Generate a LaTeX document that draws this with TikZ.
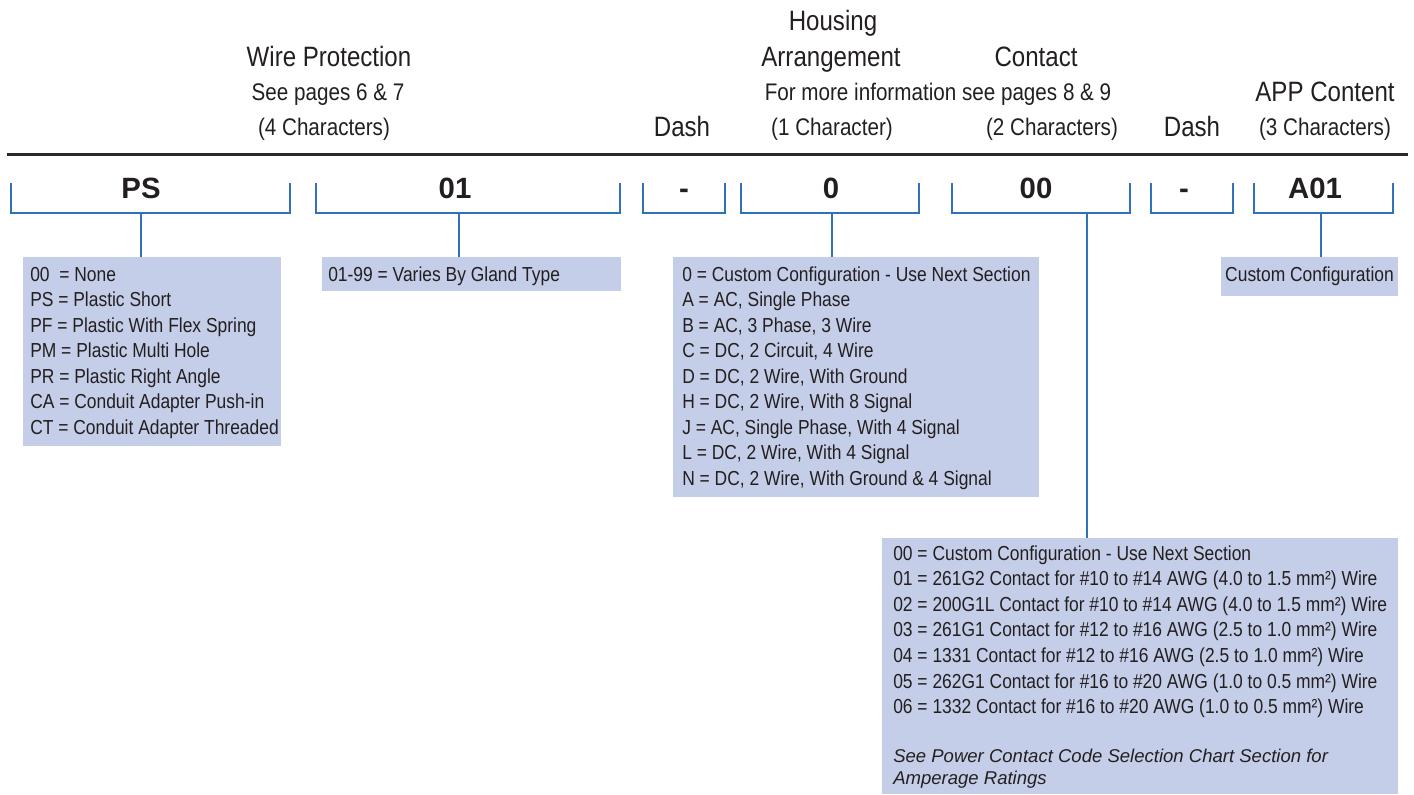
\documentclass[tikz,border=0pt]{standalone}
\usepackage{fontspec}
\setmainfont{Liberation Sans}
\newfontfamily\narrow{Liberation Sans}[FakeStretch=0.86]
\definecolor{ink}{HTML}{231F20}
\definecolor{rulegray}{HTML}{2A2A2A}
\definecolor{lineblue}{HTML}{2F72B8}
\definecolor{boxfill}{HTML}{C5CEE8}
\tikzset{
  hdr/.style={font=\narrow\fontsize{21}{25}\selectfont, text=ink, inner sep=0pt, anchor=base},
  sub/.style={font=\narrow\fontsize{18}{21}\selectfont, text=ink, inner sep=0pt, anchor=base},
  codetxt/.style={font=\bfseries\fontsize{22}{26}\selectfont, text=ink, inner sep=0pt, anchor=base},
  item/.style={font=\narrow\fontsize{15.2}{19}\selectfont, text=ink, inner sep=0pt, anchor=base west},
  note/.style={font=\itshape\fontsize{13.9}{17}\selectfont, text=ink, inner sep=0pt, anchor=base west},
  infobox/.style={fill=boxfill, draw=none, inner sep=0pt, anchor=north west},
  brk/.style={draw=lineblue, line width=1.5pt},
  stem/.style={draw=lineblue, line width=1.2pt},
}
\begin{document}
\begin{tikzpicture}[x=0.75pt,y=-0.75pt]
\useasboundingbox (0,0) rectangle (1414,794);
% top rule
\coordinate (ruleL) at (7,154);
\coordinate (ruleR) at (1408,154);
\draw[rulegray, line width=2.25pt] (ruleL) -- (ruleR);

% headers
\node[hdr] (wp) at (329,66) {Wire Protection};
\node[sub] (wps) at (328,100) {See pages 6 \& 7};
\node[sub] (wpc) at (324,135) {(4 Characters)};
\node[hdr] (dashh1) at (682,136) {Dash};
\node[hdr] (hous) at (833,30) {Housing};
\node[hdr] (arr) at (831,66) {Arrangement};
\node[sub] (info) at (938,100) {For more information see pages 8 \& 9};
\node[sub] (hac) at (832,135) {(1 Character)};
\node[hdr] (con) at (1036,66) {Contact};
\node[sub] (conc) at (1052,135) {(2 Characters)};
\node[hdr] (dashh2) at (1192,136) {Dash};
\node[hdr] (app) at (1325,101) {APP Content};
\node[sub] (appc) at (1325,135) {(3 Characters)};

% codes
\node[codetxt] (cPS) at (141,198) {PS};
\node[codetxt] (c01) at (455,198) {01};
\node[codetxt] (cd1) at (684,198) {-};
\node[codetxt] (c0) at (831,198) {0};
\node[codetxt] (c00) at (1036,198) {00};
\node[codetxt] (cd2) at (1184,198) {-};
\node[codetxt] (cA01) at (1315,198) {A01};

% brackets
\draw[brk] (11,183) -- (11,213) -- (290,213) -- (290,183);
\draw[brk] (316,183) -- (316,213) -- (620,213) -- (620,183);
\draw[brk] (643,183) -- (643,213) -- (725,213) -- (725,183);
\draw[brk] (741,183) -- (741,213) -- (919,213) -- (919,183);
\draw[brk] (952,183) -- (952,213) -- (1130,213) -- (1130,183);
\draw[brk] (1151,183) -- (1151,213) -- (1233,213) -- (1233,183);
\draw[brk] (1254,183) -- (1254,213) -- (1393,213) -- (1393,183);

\coordinate (sPS) at (141,213);
\coordinate (s01) at (459,213);
\coordinate (s0) at (832,213);
\coordinate (s00) at (1087,213);
\coordinate (sA01) at (1321,213);

% boxes
\node[infobox, minimum width=258*0.75pt, minimum height=189*0.75pt] (bPS) at (23,257) {};
\node[infobox, minimum width=299*0.75pt, minimum height=34*0.75pt] (b01) at (322,257) {};
\node[infobox, minimum width=366*0.75pt, minimum height=240*0.75pt] (b0) at (673,257) {};
\node[infobox, minimum width=177*0.75pt, minimum height=39*0.75pt] (bA01) at (1221,257) {};
\node[infobox, minimum width=516*0.75pt, minimum height=256*0.75pt] (b00) at (882,538) {};

% stems
\draw[stem] (sPS) -- (sPS |- bPS.north);
\draw[stem] (s01) -- (s01 |- b01.north);
\draw[stem] (s0) -- (s0 |- b0.north);
\draw[stem] (s00) -- (s00 |- b00.north);
\draw[stem] (sA01) -- (sA01 |- bA01.north);

% PS box text
\foreach \t [count=\i from 0] in {00~ = None, PS = Plastic Short, PF = Plastic With Flex Spring, PM = Plastic Multi Hole, PR = Plastic Right Angle, CA = Conduit Adapter Push-in, CT = Conduit Adapter Threaded}
  \node[item] (tPS\i) at (30,281+25.5*\i) {\t};

% 01 box text
\node[item] (t01) at (328,281) {01-99 = Varies By Gland Type};

% 0 box text
\foreach \t [count=\i from 0] in {0 = Custom Configuration - Use Next Section, A = AC{,} Single Phase, B = AC{,} 3 Phase{,} 3 Wire, C = DC{,} 2 Circuit{,} 4 Wire, D = DC{,} 2 Wire{,} With Ground, H = DC{,} 2 Wire{,} With 8 Signal, J = AC{,} Single Phase{,} With 4 Signal, L = DC{,} 2 Wire{,} With 4 Signal, N = DC{,} 2 Wire{,} With Ground \& 4 Signal}
  \node[item] (t0\i) at (682,281+25.5*\i) {\t};

% A01 box text
\node[item, anchor=base] (tA01) at (1309.5,281) {Custom Configuration};

% 00 box text
\foreach \t [count=\i from 0] in {00 = Custom Configuration - Use Next Section,
  01 = 261G2 Contact for \#10 to \#14 AWG (4.0 to 1.5 mm²) Wire,
  02 = 200G1L Contact for \#10 to \#14 AWG (4.0 to 1.5 mm²) Wire,
  03 = 261G1 Contact for \#12 to \#16 AWG (2.5 to 1.0 mm²) Wire,
  04 = 1331 Contact for \#12 to \#16 AWG (2.5 to 1.0 mm²) Wire,
  05 = 262G1 Contact for \#16 to \#20 AWG (1.0 to 0.5 mm²) Wire,
  06 = 1332 Contact for \#16 to \#20 AWG (1.0 to 0.5 mm²) Wire}
  \node[item] (t00\i) at (893,560+25.6*\i) {\t};
\node[note] (n1) at (893,762) {See Power Contact Code Selection Chart Section for};
\node[note] (n2) at (893,784) {Amperage Ratings};
\end{tikzpicture}
\end{document}
